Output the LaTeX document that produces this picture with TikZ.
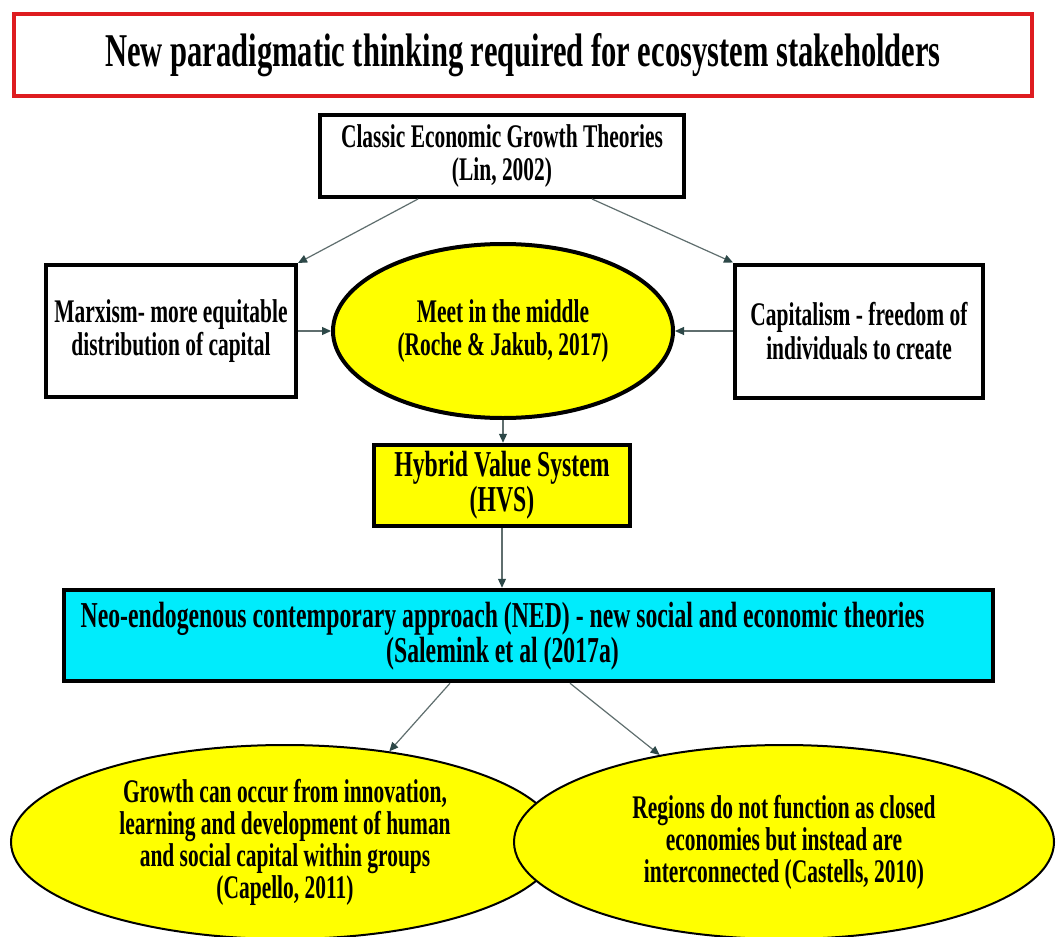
\documentclass[tikz,border=0pt]{standalone}
\usepackage{fontspec}
\setmainfont{Liberation Serif}[FakeStretch=0.65]
\usetikzlibrary{arrows.meta,shapes.geometric}
\definecolor{framered}{RGB}{222,28,32}
\definecolor{hiyellow}{RGB}{255,255,0}
\definecolor{hicyan}{RGB}{0,236,252}
\definecolor{linkgray}{RGB}{95,110,110}
\definecolor{tipslate}{RGB}{45,72,72}
\tikzset{
  body/.style={font=\fontsize{33}{33.5}\selectfont\bfseries, align=center, inner sep=0pt},
  largebody/.style={font=\fontsize{36.5}{35}\selectfont\bfseries},
  plainbox/.style={body, draw=black, line width=4pt, fill=white, rectangle},
  hibox/.style={body, largebody, draw=black, line width=4.5pt, rectangle},
  bigoval/.style={body, ellipse, draw=black, fill=hiyellow},
  lowoval/.style={bigoval, line width=2pt, font=\fontsize{33}{32}\selectfont\bfseries},
  link/.style={draw=linkgray, line width=1.2pt,
    -{Triangle[length=9pt,width=8pt,color=tipslate]}}
}
\begin{document}
\begin{tikzpicture}[x=1pt,y=-1pt]
\useasboundingbox (0,0) rectangle (1059,936);
\fill[white] (0,0) rectangle (1059,936);

% heading banner
\node[draw=framered, line width=4pt, minimum width=1018pt, minimum height=82pt,
      inner sep=0pt, font=\fontsize{47}{50}\selectfont\bfseries]
  (title) at (523,55) {\raisebox{-3pt}{New paradigmatic thinking required for ecosystem stakeholders}};

% upper tier
\node[plainbox, minimum width=364pt, minimum height=82pt] (classic) at (502,156)
  {Classic Economic Growth Theories\\(Lin, 2002)};
\node[plainbox, minimum width=250pt, minimum height=132pt] (marx) at (171,331)
  {Marxism- more equitable\\distribution of capital};
\node[plainbox, minimum width=248pt, minimum height=133pt] (cap) at (859,331)
  {Capitalism - freedom of\\individuals to create};
\node[bigoval, line width=4pt, minimum width=340pt, minimum height=174pt] (meet) at (503,331)
  {Meet in the middle\\(Roche \& Jakub, 2017)};

% middle tier
\node[hibox, fill=hiyellow, minimum width=256pt, minimum height=81pt] (hvs) at (502,485.5)
  {Hybrid Value System\\(HVS)};
\node[hibox, fill=hicyan, minimum width=929pt, minimum height=91pt] (ned) at (528.5,635.5) {};
% the caption sits on the central column, left of the box centre
\node[body, largebody] (nedtext) at (502.5,636)
  {Neo-endogenous contemporary approach (NED) - new social and economic theories\\(Salemink et al (2017a)};

% lower tier
\node[lowoval, minimum width=548pt, minimum height=194pt] (growth) at (285,842)
  {Growth can occur from innovation,\\learning and development of human\\and social capital within groups\\(Capello, 2011)};
\node[lowoval, minimum width=540pt, minimum height=194pt] (regions) at (784,842)
  {Regions do not function as closed\\economies but instead are\\interconnected (Castells, 2010)};

% connectors
\draw[link] ([xshift=-84pt]classic.south) -- (marx.north east);
\draw[link] ([xshift=90pt]classic.south) -- (cap.north west);
\draw[link] (marx.east) -- (meet.west);
\draw[link] (cap.west) -- (meet.east);
\draw[link] (meet.south) -- (meet.south |- hvs.north);
\draw[link] (hvs.south) -- (hvs.south |- ned.north);
\draw[link] ([xshift=-78.5pt]ned.south) -- (growth.41);
\draw[link] ([xshift=41.5pt]ned.south) -- (regions.145);
\end{tikzpicture}
\end{document}
